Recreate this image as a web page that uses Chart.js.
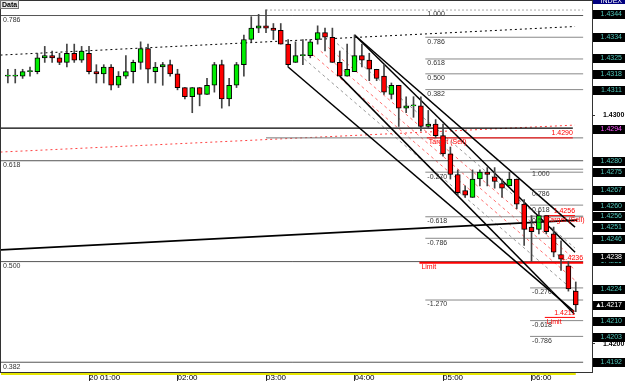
<!DOCTYPE html>
<html>
<head>
<meta charset="utf-8">
<script src="https://cdn.jsdelivr.net/npm/chart.js@4.4.0/dist/chart.umd.min.js"></script>
<style>
  html, body { margin: 0; padding: 0; background: #fff; }
</style>
</head>
<body>
<canvas id="chart" width="625" height="384"></canvas>
<script>
// 5 minute bars, x = minutes after 00:00, first bar at 00:05
const firstMinute = 5;
const barMinutes = 5;
const opens  = [1.4317,1.4317,1.4317,1.4319,1.4319,1.4325,1.4326,1.4325,1.4323,1.4327,1.4324,
                1.4327,1.4319,1.4318,1.4321,1.4313,1.4317,1.4319,1.4323,1.4329,1.4319,1.4321,1.4322,1.4318,1.4312,1.4308,1.4312,1.4309,
                1.4313,1.4322,1.4307,1.4313,1.4322,1.4333,1.4338,1.4339,1.4338,1.4337,1.4331,1.4323,1.4326,1.4326,1.4333,1.4336,1.4334,
                1.4323,1.4317,1.4319,1.4326,1.4324,1.4320,1.4317,1.4309,1.4313,1.4303,1.4304,1.4304,1.4295,1.4296,1.4291,1.4283,1.4274,
                1.4267,1.4264,1.4272,1.4275,1.4273,1.4270,1.4269,1.4272,1.4261,1.4251,1.4250,1.4256,1.4248,1.4239,1.4234,1.4223];
const highs  = [1.4320,1.4320,1.4320,1.4321,1.4327,1.4330,1.4328,1.4327,1.4331,1.4331,1.4330,
                1.4330,1.4322,1.4322,1.4322,1.4319,1.4326,1.4324,1.4332,1.4331,1.4323,1.4323,1.4324,1.4320,1.4312,1.4312,1.4312,1.4316,
                1.4323,1.4324,1.4316,1.4323,1.4335,1.4343,1.4344,1.4346,1.4340,1.4340,1.4333,1.4332,1.4333,1.4333,1.4339,1.4338,1.4338,
                1.4328,1.4331,1.4335,1.4331,1.4327,1.4320,1.4322,1.4314,1.4313,1.4308,1.4308,1.4308,1.4302,1.4298,1.4296,1.4286,1.4276,
                1.4269,1.4276,1.4276,1.4277,1.4277,1.4272,1.4275,1.4272,1.4263,1.4256,1.4258,1.4256,1.4251,1.4245,1.4236,1.4227];
const lows   = [1.4314,1.4314,1.4316,1.4317,1.4318,1.4323,1.4323,1.4322,1.4321,1.4323,1.4323,
                1.4318,1.4314,1.4314,1.4311,1.4312,1.4316,1.4314,1.4320,1.4314,1.4314,1.4313,1.4317,1.4311,1.4307,1.4301,1.4304,1.4309,
                1.4310,1.4303,1.4304,1.4312,1.4317,1.4332,1.4336,1.4336,1.4333,1.4331,1.4321,1.4323,1.4322,1.4325,1.4331,1.4328,1.4323,
                1.4317,1.4317,1.4319,1.4321,1.4315,1.4315,1.4309,1.4307,1.4295,1.4301,1.4299,1.4293,1.4294,1.4290,1.4282,1.4272,1.4265,
                1.4264,1.4264,1.4269,1.4269,1.4268,1.4264,1.4269,1.4259,1.4243,1.4236,1.4248,1.4248,1.4238,1.4232,1.4223,1.4214];
const closes = [1.4317,1.4317,1.4319,1.4319,1.4325,1.4326,1.4325,1.4323,1.4327,1.4324,1.4328,
                1.4319,1.4318,1.4321,1.4313,1.4317,1.4319,1.4323,1.4329,1.4320,1.4321,1.4322,1.4318,1.4312,1.4308,1.4312,1.4309,1.4313,
                1.4322,1.4307,1.4313,1.4322,1.4333,1.4338,1.4339,1.4338,1.4337,1.4331,1.4322,1.4326,1.4326,1.4332,1.4336,1.4334,1.4323,
                1.4317,1.4320,1.4326,1.4324,1.4320,1.4316,1.4310,1.4313,1.4303,1.4304,1.4304,1.4295,1.4296,1.4291,1.4283,1.4274,1.4266,
                1.4265,1.4272,1.4275,1.4274,1.4271,1.4268,1.4272,1.4261,1.4250,1.4249,1.4256,1.4249,1.4240,1.4237,1.4224,1.4217];

// time axis
const hourTicks = [60, 120, 180, 240, 300, 360];
const hourLabels = ['20 01:00', '02:00', '03:00', '04:00', '05:00', '06:00'];
const priceTicks = [1.4200, 1.4300];

// big fibo on the left, full width
const bigFibRatios = ['0.786', '0.618', '0.500', '0.382'];
const bigFibPrices = [1.43435, 1.42800, 1.42359, 1.41919];
// fibo drawn from the 03:00 high
const fib1Ratios = ['1.000', '0.786', '0.618', '0.500', '0.382', '-0.270', '-0.618', '-0.786', '-1.270'];
const fib1Prices = [1.43459, 1.43340, 1.43245, 1.43180, 1.43111, 1.42750, 1.42555, 1.42461, 1.42191];
const fib1Start = [180, 288, 288, 288, 288, 288, 288, 288, 288];
// fibo drawn near 06:00
const fib2Ratios = ['1.000', '0.786', '0.618', '0.5', '-0.270', '-0.618', '-0.786'];
const fib2Prices = [1.42763, 1.42675, 1.42606, 1.42558, 1.42244, 1.42101, 1.42032];
const fibEnd = 395;
const fib2Start = 359;

// red order levels
const redPrices = [1.42900, 1.42354, 1.42560, 1.42115];
const redFrom   = [289, 284, 369, 369];
const redTo     = [388, 395, 389.5, 389.5];
const redNames  = ['Target (Sell)', 'Limit', 'Target (Sell)', 'Limit'];
const redTags   = ['1.4290', '1.4236', '1.4256', '1.4211'];

// horizontal lines [price, from, to]
const hLineBlack = [1.42943, 0, 388];
const hLine0 = [1.42900, 180, 395];

// trend / pitchfork lines [minute1, price1, minute2, price2]
const pitchLines = [
  [195, 1.4321, 389, 1.4214],
  [230, 1.4317, 389, 1.4213],
  [240, 1.4335, 389.5, 1.4251],
  [240, 1.4335, 389.5, 1.4240]
];
const longTrend = [0, 1.4241, 391, 1.4254];
const dottedTrend = [0, 1.43262, 389.5, 1.43387];
const redTrend = [0, 1.42838, 389.5, 1.42956];
const redDashed = [
  [211.8, 1.43263, 389.5, 1.42277],
  [217.1, 1.43279, 389.5, 1.42323],
  [222.3, 1.43295, 389.5, 1.42368]
];
const greyDashed = [
  [206.0, 1.43245, 389.5, 1.42227],
  [228.1, 1.43313, 389.5, 1.42418]
];

// price tags on the right axis
const tagPrices = [1.4344, 1.4334, 1.4325, 1.4318, 1.4311, 1.4294, 1.4280, 1.4275, 1.4267, 1.4260,
                   1.4256, 1.4251, 1.4246, 1.4236, 1.4238, 1.4224, 1.4210, 1.4217, 1.4203, 1.4192];
const tagKinds  = ['o','o','o','o','o','m','o','o','o','o','o','o','o','o','w','o','o','b','o','o'];

const FONT = '"Liberation Sans", Arial, sans-serif';
const xMin = 0.34, xMax = 401.0;
const yMin = 1.418763, yMax = 1.434985;

const bars = opens.map((o, k) => ({
  x: firstMinute + barMinutes * k, o: o, h: highs[k], l: lows[k], c: closes[k]
}));

function seg(s) { return [{x: s[0], y: s[1]}, {x: s[2], y: s[3]}]; }
function hseg(p, a, b) { return [{x: a, y: p}, {x: b, y: p}]; }
function lineSet(data, color, width, dash, order) {
  return { type: 'line', data: data, borderColor: color, borderWidth: width, borderDash: dash || [],
           pointRadius: 0, fill: false, tension: 0, order: order || 5 };
}
function noPad(s) {
  s.paddingTop = 0; s.paddingBottom = 0; s.paddingLeft = 0; s.paddingRight = 0;
}

const datasets = [];
datasets.push({
  type: 'bar', order: 0, grouped: false, barThickness: 5, minBarLength: 1,
  data: bars.map(b => ({x: b.x, y: [b.o, b.c]})),
  backgroundColor: bars.map(b => b.c >= b.o ? '#00ee00' : '#ff0000'),
  borderColor: '#000', borderWidth: 1, borderSkipped: false
});
datasets.push({
  type: 'bar', order: 1, grouped: false, barThickness: 1,
  data: bars.map(b => ({x: b.x, y: [b.l, b.h]})),
  backgroundColor: '#444', borderWidth: 0
});

bigFibPrices.forEach(p => datasets.push(lineSet(hseg(p, xMin, fibEnd), '#555', 1)));
fib1Prices.forEach((p, i) => datasets.push(lineSet(hseg(p, fib1Start[i], fibEnd), i === 0 ? '#aaa' : '#888', 1, i === 0 ? [2, 2] : [])));
fib2Prices.forEach(p => datasets.push(lineSet(hseg(p, fib2Start, fibEnd), '#888', 1)));
datasets.push(lineSet(hseg(hLine0[0], hLine0[1], hLine0[2]), '#777', 1));
datasets.push(lineSet(hseg(hLineBlack[0], hLineBlack[1], hLineBlack[2]), '#000', 1.2));
redPrices.forEach((p, i) => datasets.push(lineSet(hseg(p, redFrom[i], redTo[i]), '#ff0000', i === 1 ? 2 : 1, [], 4)));
datasets.push(lineSet(seg(dottedTrend), '#000', 1, [2, 3]));
datasets.push(lineSet(seg(redTrend), '#ff4040', 1, [2, 3]));
redDashed.forEach(s => datasets.push(lineSet(seg(s), '#ff7070', 1, [3, 3])));
greyDashed.forEach(s => datasets.push(lineSet(seg(s), '#999', 1, [3, 3])));
pitchLines.forEach(s => datasets.push(lineSet(seg(s), '#000', 1.5, [], 3)));
datasets.push(lineSet(seg(longTrend), '#000', 1.8, [], 3));

const overlay = {
  id: 'overlay',
  afterDatasetsDraw(chart) {
    const ctx = chart.ctx, a = chart.chartArea, sx = chart.scales.x, sy = chart.scales.y;
    ctx.save();
    ctx.beginPath();
    ctx.rect(a.left, a.top, a.right - a.left, a.bottom - a.top);
    ctx.clip();
    ctx.font = '7px ' + FONT;
    ctx.textBaseline = 'top';
    ctx.textAlign = 'left';
    function below(text, m, p, color) {
      ctx.fillStyle = color;
      ctx.fillText(text, sx.getPixelForValue(m) + 2, sy.getPixelForValue(p) + 1);
    }
    bigFibRatios.forEach((r, i) => below(r, xMin, bigFibPrices[i], '#333'));
    fib1Ratios.forEach((r, i) => below(r, i === 0 ? 288 : fib1Start[i], fib1Prices[i], '#333'));
    fib2Ratios.forEach((r, i) => below(r, fib2Start, fib2Prices[i], '#333'));
    redNames.forEach((n, i) => below(n, redFrom[i], redPrices[i], '#ff0000'));
    ctx.textAlign = 'right';
    ctx.textBaseline = 'bottom';
    ctx.fillStyle = '#ff0000';
    redTags.forEach((t, i) => ctx.fillText(t, sx.getPixelForValue(redTo[i]), sy.getPixelForValue(redPrices[i]) - 1));
    ctx.restore();

    // frame and bottom strip
    ctx.save();
    ctx.strokeStyle = '#333';
    ctx.lineWidth = 1;
    ctx.strokeRect(Math.round(a.left) - 0.5, Math.round(a.top) - 0.5, Math.round(a.right - a.left) + 1, Math.round(a.bottom - a.top) + 1);
    ctx.fillStyle = '#e6e600';
    ctx.fillRect(a.left, a.bottom + 1, sx.getPixelForValue(390) - a.left, 2);
    // Data button
    ctx.fillStyle = '#e8e8e8';
    ctx.fillRect(0, 0, 19, 9);
    ctx.strokeStyle = '#777';
    ctx.strokeRect(0.5, 0.5, 18, 8);
    ctx.fillStyle = '#000';
    ctx.font = 'bold 7px ' + FONT;
    ctx.textAlign = 'left';
    ctx.textBaseline = 'middle';
    ctx.fillText('Data', 2, 5);
    ctx.restore();
  },
  afterDraw(chart) {
    const ctx = chart.ctx, a = chart.chartArea, sy = chart.scales.y;
    ctx.save();
    ctx.font = '7px ' + FONT;
    ctx.textAlign = 'right';
    ctx.textBaseline = 'middle';
    // window name tag
    ctx.fillStyle = '#000080';
    ctx.fillRect(a.right + 1, 0, 33, 4);
    ctx.fillStyle = '#fff';
    ctx.fillText('INDEX', 622, 1);
    tagPrices.forEach((p, i) => {
      const y = Math.round(sy.getPixelForValue(p));
      ctx.fillStyle = '#000';
      ctx.fillRect(a.right + 1, y - 4, 33, 9);
      const k = tagKinds[i];
      ctx.fillStyle = k === 'm' ? '#ff55ff' : (k === 'w' || k === 'b') ? '#ffffff' : '#4fc4b8';
      ctx.fillText(p.toFixed(4), 622, y + 0.5);
      if (k === 'b') { ctx.textAlign = 'left'; ctx.fillText('\u25B2', a.right + 3, y + 0.5); ctx.textAlign = 'right'; }
    });
    ctx.restore();
  }
};

new Chart(document.getElementById('chart'), {
  type: 'bar',
  data: { datasets: datasets },
  options: {
    responsive: false,
    animation: false,
    events: [],
    layout: { padding: { left: 1, top: 1, right: 0, bottom: 0 } },
    plugins: { legend: { display: false }, tooltip: { enabled: false } },
    scales: {
      x: {
        type: 'linear', position: 'bottom', min: xMin, max: xMax, offset: false,
        afterFit(s) { s.height = 12; noPad(s); },
        afterBuildTicks(s) { s.ticks = hourTicks.map(v => ({value: v})); },
        grid: { drawOnChartArea: false, drawTicks: true, tickLength: 9, color: '#333', offset: false },
        border: { display: false },
        ticks: {
          autoSkip: false, maxRotation: 0, align: 'start', padding: -8, color: '#000',
          font: { family: FONT, size: 8 },
          callback: v => hourLabels[hourTicks.indexOf(v)]
        }
      },
      y: {
        type: 'linear', position: 'right', min: yMin, max: yMax,
        afterFit(s) { s.width = 33; noPad(s); },
        afterBuildTicks(s) { s.ticks = priceTicks.map(v => ({value: v})); },
        grid: { drawOnChartArea: false, drawTicks: true, tickLength: 3, color: '#333' },
        border: { display: false },
        ticks: {
          padding: 8, color: '#000',
          font: { family: FONT, size: 7, weight: 'bold' },
          callback: v => v.toFixed(4)
        }
      }
    }
  },
  plugins: [overlay]
});
</script>
</body>
</html>
